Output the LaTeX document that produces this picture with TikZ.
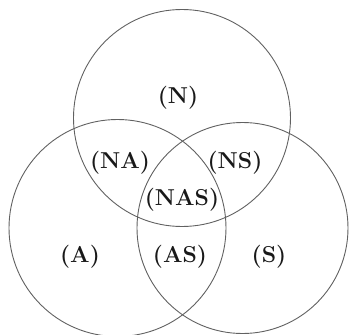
\documentclass[tikz,border=0pt]{standalone}
\begin{document}
\begin{tikzpicture}[x=1pt,y=-1pt,
  setc/.style={circle,draw=black!62,line width=0.9pt,inner sep=0pt,outer sep=0pt},
  lab/.style={text=black!90,font=\fontsize{23}{27}\selectfont\bfseries,inner sep=0pt}]
\useasboundingbox (0,0) rectangle (349,335);
\node[setc,minimum size=217pt] (cN) at (182,118) {};
\node[setc,minimum size=217pt] (cA) at (117.5,228) {};
\node[setc,minimum size=211pt] (cS) at (242.5,228) {};
\node[lab] (N) at (178,98) {(N)};
\node[lab] (NA) at (120,163) {(NA)};
\node[lab] (NS) at (235,163) {(NS)};
\node[lab] (NAS) at (182,200) {(NAS)};
\node[lab] (A) at (80,257) {(A)};
\node[lab] (AS) at (180,257) {(AS)};
\node[lab] (S) at (269,257) {(S)};
\end{tikzpicture}
\end{document}
